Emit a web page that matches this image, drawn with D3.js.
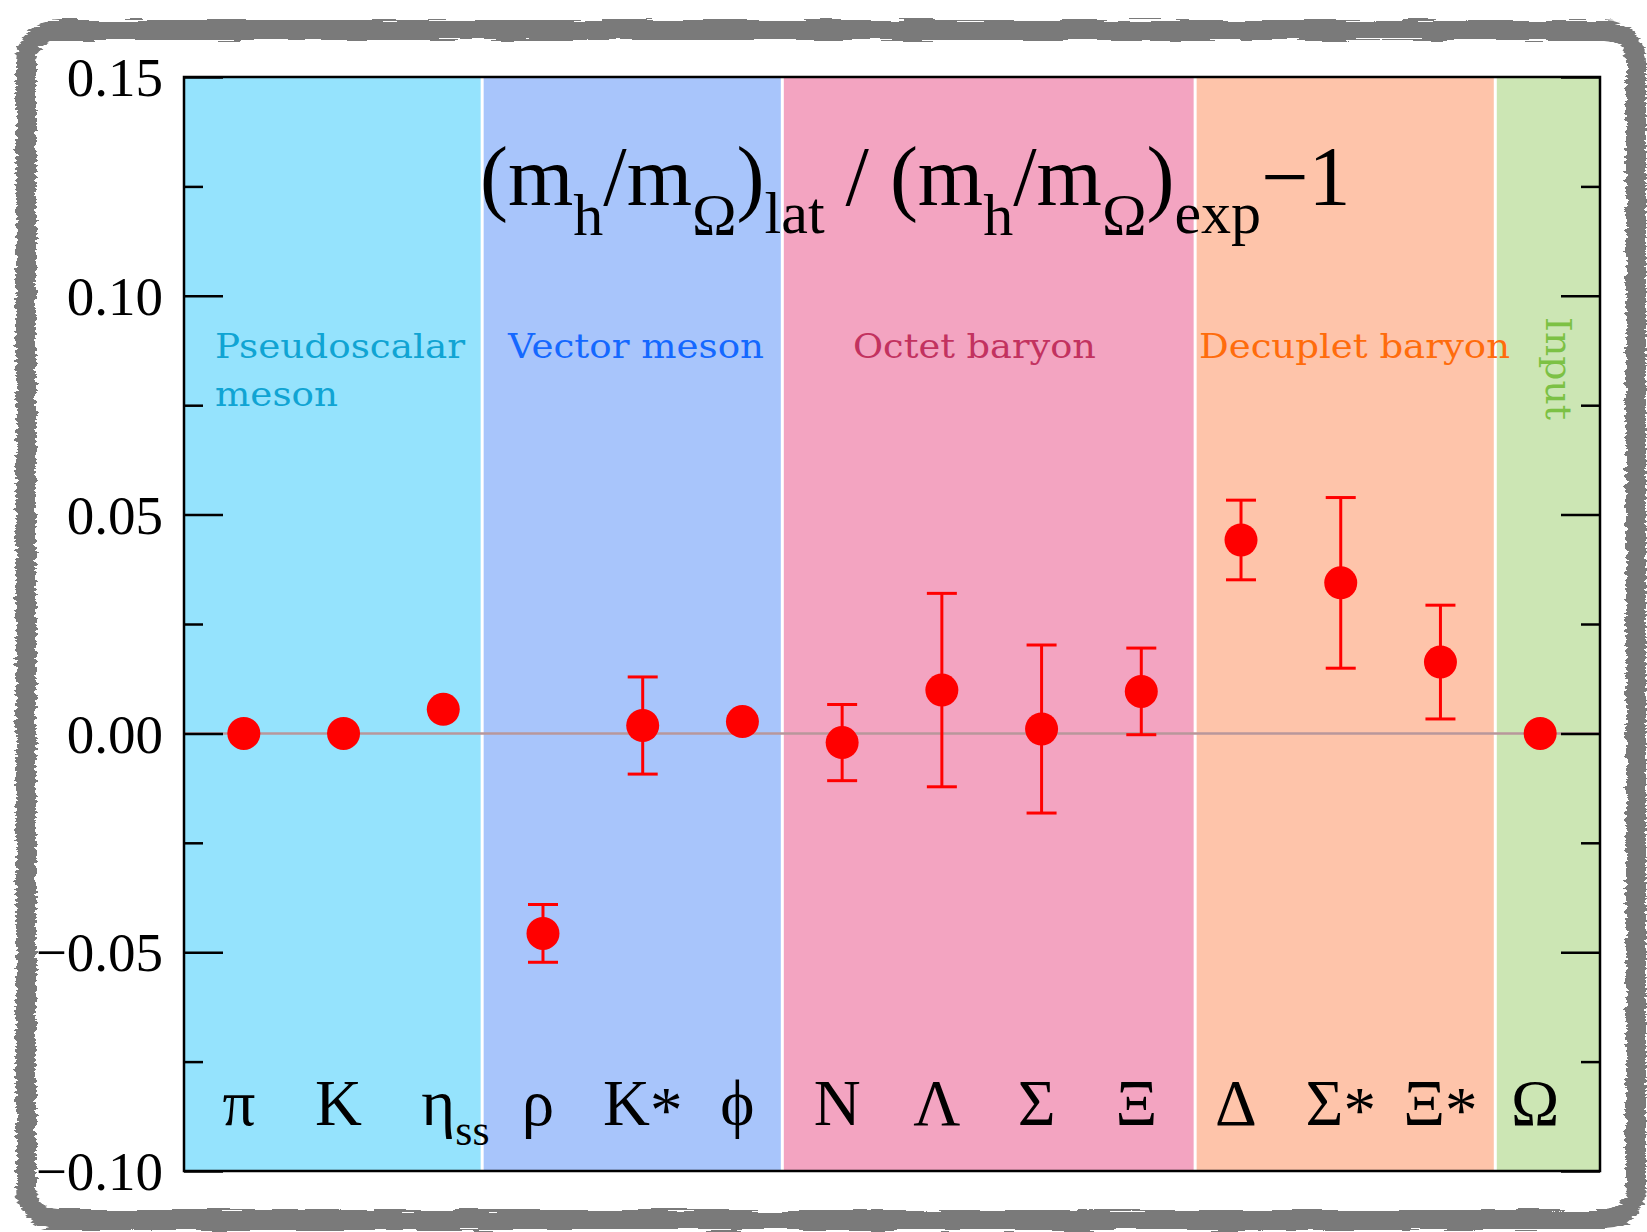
<!DOCTYPE html>
<html>
<head>
<meta charset="utf-8">
<script src="https://cdn.jsdelivr.net/npm/d3@7"></script>
<style>
  body { margin: 0; background: #fff; }
  svg { display: block; }
</style>
</head>
<body>
<div id="chart-area"></div>
<script>
// hadron masses relative to m_Omega, lattice vs experiment

var categories = ["π", "K", "η", "ρ", "K", "ϕ", "N", "Λ", "Σ", "Ξ", "Δ", "Σ", "Ξ", "Ω"];
var subscripts = ["", "", "ss", "", "", "", "", "", "", "", "", "", "", ""];
var starred    = [false, false, false, false, true, false, false, false, false, false, false, true, true, false];
var values = [0, 0, 0.0055, -0.0457, 0.0018, 0.0027, -0.0021, 0.0099, 0.0010, 0.0096, 0.0442, 0.0344, 0.0163, 0];
var errors = [0, 0, 0, 0.0066, 0.0111, 0, 0.0087, 0.0221, 0.0192, 0.0099, 0.0091, 0.0195, 0.0130, 0];

var groupNames = [["Pseudoscalar", "meson"], ["Vector meson"], ["Octet baryon"], ["Decuplet baryon"], ["Input"]];
var groupEdges = [0.4, 3.39, 6.40, 10.54, 13.55, 14.6];
var bandColors = ["#95e3fd", "#a8c5fb", "#f3a4c1", "#fec4aa", "#cce6b4"];
var textColors = ["#10a4d3", "#1468ff", "#c2325f", "#ff6c0c", "#7cc144"];

var majorTicks = [-0.10, -0.05, 0.00, 0.05, 0.10, 0.15];
var minorTicks = [-0.075, -0.025, 0.025, 0.075, 0.125];

var width = 1647, height = 1232;
var pLeft = 184, pRight = 1600, pTop = 77, pBottom = 1171;

var svg = d3.select("#chart-area").append("svg")
    .attr("width", width)
    .attr("height", height);

var x = d3.scaleLinear().domain([0.4, 14.6]).range([pLeft, pRight]);
var y = d3.scaleLinear().domain([-0.10, 0.15]).range([pBottom, pTop]);

// rough grey frame
var defs = svg.append("defs");
var f = defs.append("filter").attr("id", "rough")
    .attr("x", "-5%").attr("y", "-5%").attr("width", "110%").attr("height", "110%");
f.append("feTurbulence").attr("type", "fractalNoise")
    .attr("baseFrequency", "0.02 0.35").attr("numOctaves", 2).attr("seed", 4).attr("result", "n");
f.append("feDisplacementMap").attr("in", "SourceGraphic").attr("in2", "n")
    .attr("scale", 9).attr("xChannelSelector", "R").attr("yChannelSelector", "G");

svg.append("rect")
    .attr("x", 26).attr("y", 30)
    .attr("width", 1610).attr("height", 1190)
    .attr("rx", 32)
    .attr("fill", "none")
    .attr("stroke", "#7a7a7a")
    .attr("stroke-width", 20)
    .attr("filter", "url(#rough)");

// coloured bands
var bands = d3.range(groupNames.length);
svg.selectAll("rect.band").data(bands).enter().append("rect")
    .attr("class", "band")
    .attr("x", function(i) { return x(groupEdges[i]); })
    .attr("y", pTop)
    .attr("width", function(i) { return x(groupEdges[i + 1]) - x(groupEdges[i]); })
    .attr("height", pBottom - pTop)
    .attr("fill", function(i) { return bandColors[i]; });

svg.selectAll("line.sep").data(groupEdges.slice(1, -1)).enter().append("line")
    .attr("class", "sep")
    .attr("x1", function(d) { return x(d); })
    .attr("x2", function(d) { return x(d); })
    .attr("y1", pTop).attr("y2", pBottom)
    .attr("stroke", "#fff")
    .attr("stroke-width", 3);

// zero line
svg.append("line")
    .attr("x1", pLeft).attr("x2", pRight)
    .attr("y1", y(0)).attr("y2", y(0))
    .attr("stroke", "#b8979b")
    .attr("stroke-width", 2.5);

// group labels
var gl = svg.append("g")
    .attr("font-family", "'DejaVu Serif', serif")
    .attr("font-size", 33);
var labelX = [215, 508, 853, 1199];
var labelLen = [250, 256, 243, 311];
for (var i = 0; i < 4; i++) {
  groupNames[i].forEach(function(s, j) {
    var t = gl.append("text")
        .attr("x", labelX[i])
        .attr("y", 358 + j * 48)
        .attr("fill", textColors[i])
        .text(s);
    if (j == 0) t.attr("textLength", labelLen[i]).attr("lengthAdjust", "spacingAndGlyphs");
    else t.attr("textLength", 123).attr("lengthAdjust", "spacingAndGlyphs");
  });
}
gl.append("text")
    .attr("transform", "translate(1546,317) rotate(90)")
    .attr("font-size", 35)
    .attr("fill", textColors[4])
    .attr("textLength", 103).attr("lengthAdjust", "spacingAndGlyphs")
    .text(groupNames[4][0]);

// error bars
var idx = d3.range(values.length).filter(function(i) { return errors[i] > 0; });
var eb = svg.append("g").attr("stroke", "#ff0000").attr("stroke-width", 3);
eb.selectAll("line.v").data(idx).enter().append("line")
    .attr("x1", function(i) { return x(i + 1); })
    .attr("x2", function(i) { return x(i + 1); })
    .attr("y1", function(i) { return y(values[i] + errors[i]); })
    .attr("y2", function(i) { return y(values[i] - errors[i]); });
[1, -1].forEach(function(sgn) {
  eb.selectAll("line.c" + sgn).data(idx).enter().append("line")
      .attr("x1", function(i) { return x(i + 1) - 15; })
      .attr("x2", function(i) { return x(i + 1) + 15; })
      .attr("y1", function(i) { return y(values[i] + sgn * errors[i]); })
      .attr("y2", function(i) { return y(values[i] + sgn * errors[i]); });
});

// points
svg.selectAll("circle.dot").data(values).enter().append("circle")
    .attr("class", "dot")
    .attr("cx", function(d, i) { return x(i + 1); })
    .attr("cy", function(d) { return y(d); })
    .attr("r", 16.5)
    .attr("fill", "#ff0000");

// axes
var fmt = d3.format(".2f");
var axL = svg.append("g").attr("transform", "translate(" + pLeft + ",0)")
    .call(d3.axisLeft(y).tickValues(majorTicks).tickSizeInner(-39).tickSizeOuter(0).tickPadding(21).tickFormat(fmt));
var axLm = svg.append("g").attr("transform", "translate(" + pLeft + ",0)")
    .call(d3.axisLeft(y).tickValues(minorTicks).tickSizeInner(-19).tickSizeOuter(0).tickFormat(""));
var axR = svg.append("g").attr("transform", "translate(" + pRight + ",0)")
    .call(d3.axisRight(y).tickValues(majorTicks).tickSizeInner(-39).tickSizeOuter(0).tickFormat(""));
var axRm = svg.append("g").attr("transform", "translate(" + pRight + ",0)")
    .call(d3.axisRight(y).tickValues(minorTicks).tickSizeInner(-19).tickSizeOuter(0).tickFormat(""));
[axL, axLm, axR, axRm].forEach(function(a) {
  a.select(".domain").remove();
  a.selectAll(".tick line").attr("stroke", "#000").attr("stroke-width", 2.5);
});
axL.selectAll(".tick text")
    .attr("font-family", "'Liberation Serif', 'Times New Roman', serif")
    .attr("font-size", 55)
    .attr("fill", "#000")
    .attr("dy", "0.34em");

svg.append("rect")
    .attr("x", pLeft).attr("y", pTop)
    .attr("width", pRight - pLeft).attr("height", pBottom - pTop)
    .attr("fill", "none")
    .attr("stroke", "#000")
    .attr("stroke-width", 2.5);

// category labels: plain symbols sit a little left of the point,
// starred ones are centred as a whole, subscripts trail after the symbol
var cl = svg.append("g")
    .attr("font-family", "'Liberation Serif', 'Times New Roman', serif")
    .attr("fill", "#000");
categories.forEach(function(c, i) {
  var t = cl.append("text")
      .attr("y", 1125)
      .attr("font-size", 65);
  t.append("tspan").text(c);
  var w = t.node().getComputedTextLength();
  if (starred[i]) {
    t.append("tspan").attr("dy", 7).text("*");
    var wAll = t.node().getComputedTextLength();
    t.attr("x", x(i + 1) - wAll / 2);
    return;
  }
  var x0 = x(i + 1) - 5 - w / 2;
  t.attr("x", x0);
  if (subscripts[i]) {
    cl.append("text")
        .attr("x", x0 + w)
        .attr("y", 1145)
        .attr("font-size", 44)
        .text(subscripts[i]);
  }
});

// title
var title = svg.append("text")
    .attr("x", 480).attr("y", 205)
    .attr("font-family", "'Liberation Serif', 'Times New Roman', serif")
    .attr("font-size", 84)
    .attr("fill", "#000")
    .style("white-space", "pre");
var parts = [
  ["(m", 84, 0], ["h", 60, 30], ["/m", 84, -30], ["Ω", 60, 30], [")", 84, -30], ["lat", 60, 28],
  [" / (m", 84, -28], ["h", 60, 30], ["/m", 84, -30], ["Ω", 60, 30], [")", 84, -30], ["exp", 60, 28],
  ["\u22121", 84, -28]
];
parts.forEach(function(p) {
  title.append("tspan").attr("font-size", p[1]).attr("dy", p[2]).text(p[0]);
});
</script>
</body>
</html>
